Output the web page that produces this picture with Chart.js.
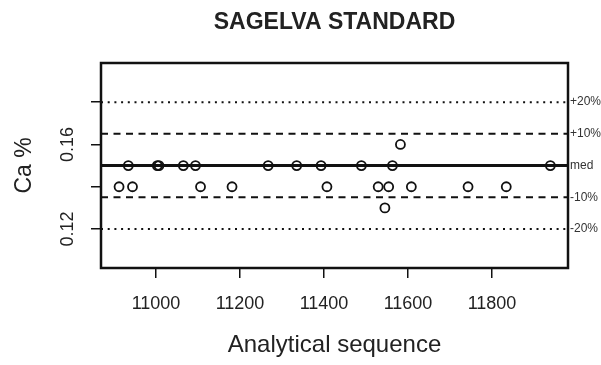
<!DOCTYPE html>
<html lang="en">
<head>
    <meta charset="UTF-8">
    <title>Sagelva standard</title>
    <script src="https://cdn.jsdelivr.net/npm/chart.js"></script>
    <style>
        body {
            margin: 0;
            padding: 0;
            background-color: #fff;
        }

        .chart-container {
            width: 601px;
            height: 365px;
        }
    </style>
</head>
<body>
    <div class="chart-container">
        <canvas id="chart" width="601" height="365"></canvas>
    </div>

    <script>
        // sample position in the run, and measured Ca %
        const seqX = [10912, 10934, 10944, 11003, 11007, 11065, 11094, 11106, 11181, 11267, 11335, 11393,
                      11407, 11489, 11529, 11545, 11554, 11563, 11582, 11608, 11743, 11834, 11939];
        const caValues = [0.14, 0.15, 0.14, 0.15, 0.15, 0.15, 0.15, 0.14, 0.14, 0.15, 0.15, 0.15,
                          0.14, 0.15, 0.14, 0.13, 0.14, 0.15, 0.16, 0.14, 0.14, 0.14, 0.15];

        // median and +/- 10 / 20 % control levels
        const refLevels = [0.18, 0.165, 0.15, 0.135, 0.12];
        const refLabels = ['+20%', '+10%', 'med', '-10%', '-20%'];

        const xTicks = [11000, 11200, 11400, 11600, 11800];
        const yTicks = [0.12, 0.14, 0.16, 0.18];
        const yLabelled = [0.12, 0.16];
        const xRange = [10869, 11981];
        const yRange = [0.1016, 0.1985];

        Chart.defaults.font.family = "'Liberation Sans', Arial, sans-serif";
        Chart.defaults.color = '#222';

        const lineStyles = [
            { width: 2, dash: [2, 4.7] },
            { width: 2, dash: [7, 5.5] },
            { width: 3, dash: [] },
            { width: 2, dash: [7, 5.5] },
            { width: 2, dash: [2, 4.7] }
        ];

        const refSets = refLevels.map((lvl, i) => ({
            type: 'line',
            label: refLabels[i],
            data: [{ x: xRange[0], y: lvl }, { x: xRange[1], y: lvl }],
            borderColor: '#111',
            borderWidth: lineStyles[i].width,
            borderDash: lineStyles[i].dash,
            pointRadius: 0,
            order: 2
        }));

        // box round the plot area
        const frame = {
            id: 'frame',
            afterDraw(chart) {
                const a = chart.chartArea;
                const ctx = chart.ctx;
                ctx.save();
                ctx.strokeStyle = '#111';
                ctx.lineWidth = 2.5;
                ctx.strokeRect(a.left, a.top, a.right - a.left, a.bottom - a.top);
                ctx.restore();
            }
        };

        new Chart(document.getElementById('chart').getContext('2d'), {
            type: 'scatter',
            data: {
                datasets: [{
                    label: 'Ca %',
                    data: seqX.map((x, i) => ({ x: x, y: caValues[i] })),
                    pointStyle: 'circle',
                    pointRadius: 4.5,
                    borderColor: '#111',
                    borderWidth: 1.8,
                    backgroundColor: 'rgba(0,0,0,0)',
                    order: 1
                }].concat(refSets)
            },
            options: {
                responsive: false,
                animation: false,
                plugins: {
                    legend: { display: false },
                    tooltip: { enabled: false },
                    title: {
                        display: true,
                        text: 'SAGELVA STANDARD',
                        fullSize: false,
                        font: { size: 23, weight: 'bold' },
                        padding: { top: 9, bottom: 26.4 }
                    }
                },
                scales: {
                    x: {
                        type: 'linear',
                        min: xRange[0],
                        max: xRange[1],
                        afterBuildTicks: s => { s.ticks = xTicks.map(v => ({ value: v })); },
                        afterFit: s => { s.height = 97; },
                        grid: { drawOnChartArea: false, color: '#111', lineWidth: 1.5, tickLength: 10 },
                        border: { display: false },
                        ticks: {
                            font: { size: 18 },
                            padding: 15,
                            callback: v => String(v)
                        },
                        title: {
                            display: true,
                            text: 'Analytical sequence',
                            font: { size: 24 },
                            padding: { bottom: 5 }
                        }
                    },
                    y: {
                        min: yRange[0],
                        max: yRange[1],
                        afterBuildTicks: s => { s.ticks = yTicks.map(v => ({ value: v })); },
                        afterFit: s => { s.width = 101; },
                        grid: { drawOnChartArea: false, color: '#111', lineWidth: 1.5, tickLength: 10 },
                        border: { display: false },
                        ticks: {
                            font: { size: 18 },
                            minRotation: 90,
                            maxRotation: 90,
                            crossAlign: 'center',
                            padding: 5,
                            autoSkip: false,
                            callback: v => yLabelled.some(t => Math.abs(t - v) < 1e-6) ? v.toFixed(2) : ''
                        },
                        title: {
                            display: true,
                            text: 'Ca %',
                            font: { size: 23 },
                            padding: { top: 11 }
                        }
                    },
                    yRight: {
                        position: 'right',
                        min: yRange[0],
                        max: yRange[1],
                        afterBuildTicks: s => { s.ticks = refLevels.map(v => ({ value: v })); },
                        afterFit: s => { s.width = 33; },
                        grid: { drawOnChartArea: false, drawTicks: false },
                        border: { display: false },
                        ticks: {
                            font: { size: 12 },
                            color: '#333',
                            padding: 2,
                            autoSkip: false,
                            callback: (v, i) => refLabels[i]
                        }
                    }
                }
            },
            plugins: [frame]
        });
    </script>
</body>
</html>
